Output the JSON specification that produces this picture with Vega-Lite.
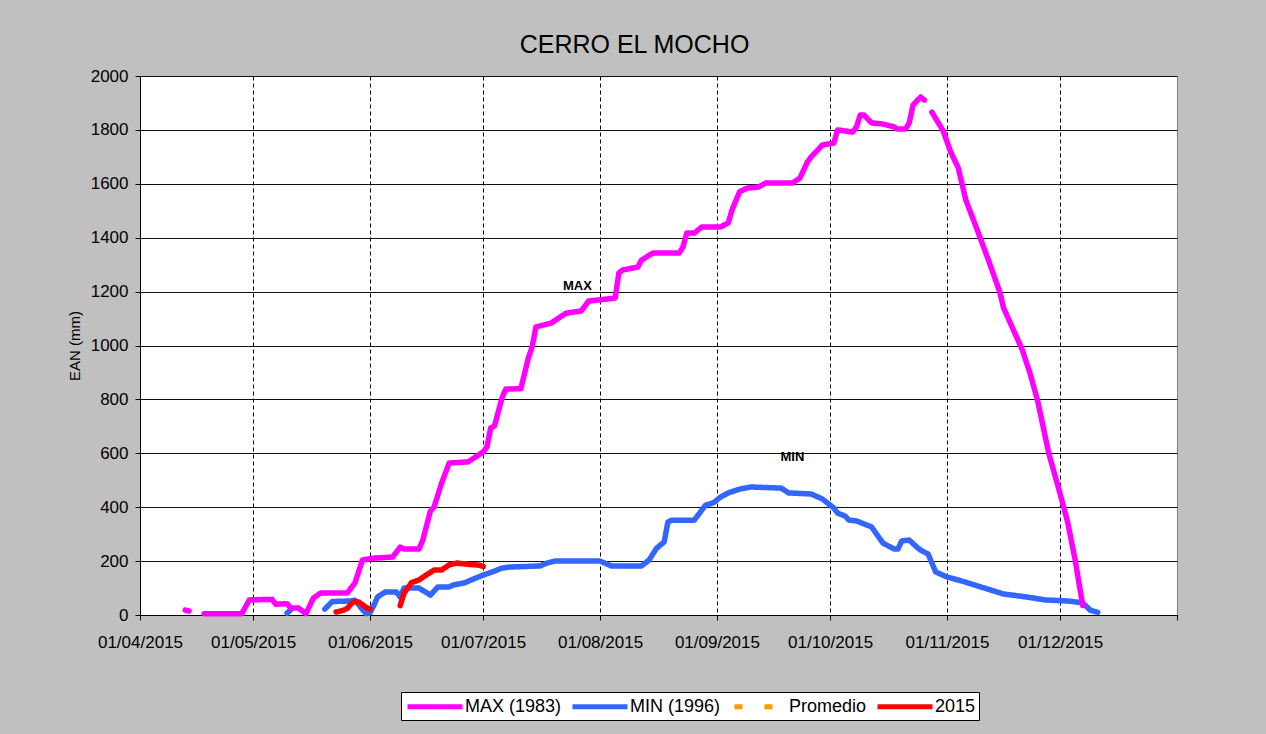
{
  "$schema": "https://vega.github.io/schema/vega-lite/v6.json",
  "width": 1037,
  "height": 539,
  "autosize": {"type": "none"},
  "padding": {"left": 140, "top": 76, "right": 89, "bottom": 119},
  "background": "#c0c0c0",
  "title": {"text": "CERRO EL MOCHO", "fontSize": 25, "font": "Liberation Sans", "fontWeight": "normal", "color": "black", "anchor": "middle", "offset": 9, "dx": -24},
  "config": {
    "font": "Liberation Sans",
    "view": {"fill": "white", "stroke": "#808080", "strokeWidth": 1},
    "axis": {"domainColor": "black", "tickColor": "black", "labelColor": "black", "titleColor": "black", "labelFont": "Liberation Sans", "titleFont": "Liberation Sans", "labelFontSize": 17, "tickSize": 5, "labelFlush": false, "labelOverlap": false, "labelBound": false}
  },
  "data": {"values": [
    {"s": "MAX (1983)", "d": "2015-04-13", "v": 18},
    {"s": "MAX (1983)", "d": "2015-04-14", "v": 15},
    {"s": "MAX (1983)", "d": "2015-04-15", "v": null},
    {"s": "MAX (1983)", "d": "2015-04-18", "v": 5},
    {"s": "MAX (1983)", "d": "2015-04-28", "v": 5},
    {"s": "MAX (1983)", "d": "2015-04-30", "v": 56},
    {"s": "MAX (1983)", "d": "2015-05-06", "v": 58},
    {"s": "MAX (1983)", "d": "2015-05-07", "v": 40},
    {"s": "MAX (1983)", "d": "2015-05-10", "v": 42},
    {"s": "MAX (1983)", "d": "2015-05-11", "v": 26},
    {"s": "MAX (1983)", "d": "2015-05-13", "v": 26},
    {"s": "MAX (1983)", "d": "2015-05-15", "v": 5},
    {"s": "MAX (1983)", "d": "2015-05-17", "v": 63},
    {"s": "MAX (1983)", "d": "2015-05-19", "v": 82},
    {"s": "MAX (1983)", "d": "2015-05-26", "v": 82},
    {"s": "MAX (1983)", "d": "2015-05-28", "v": 119},
    {"s": "MAX (1983)", "d": "2015-05-30", "v": 204},
    {"s": "MAX (1983)", "d": "2015-06-02", "v": 211},
    {"s": "MAX (1983)", "d": "2015-06-07", "v": 215},
    {"s": "MAX (1983)", "d": "2015-06-09", "v": 252},
    {"s": "MAX (1983)", "d": "2015-06-10", "v": 245},
    {"s": "MAX (1983)", "d": "2015-06-14", "v": 245},
    {"s": "MAX (1983)", "d": "2015-06-15", "v": 278},
    {"s": "MAX (1983)", "d": "2015-06-17", "v": 385},
    {"s": "MAX (1983)", "d": "2015-06-18", "v": 401},
    {"s": "MAX (1983)", "d": "2015-06-20", "v": 490},
    {"s": "MAX (1983)", "d": "2015-06-22", "v": 564},
    {"s": "MAX (1983)", "d": "2015-06-27", "v": 568},
    {"s": "MAX (1983)", "d": "2015-07-01", "v": 605},
    {"s": "MAX (1983)", "d": "2015-07-02", "v": 623},
    {"s": "MAX (1983)", "d": "2015-07-03", "v": 694},
    {"s": "MAX (1983)", "d": "2015-07-04", "v": 701},
    {"s": "MAX (1983)", "d": "2015-07-06", "v": 805},
    {"s": "MAX (1983)", "d": "2015-07-07", "v": 838},
    {"s": "MAX (1983)", "d": "2015-07-11", "v": 840},
    {"s": "MAX (1983)", "d": "2015-07-13", "v": 954},
    {"s": "MAX (1983)", "d": "2015-07-14", "v": 995},
    {"s": "MAX (1983)", "d": "2015-07-15", "v": 1069},
    {"s": "MAX (1983)", "d": "2015-07-19", "v": 1083},
    {"s": "MAX (1983)", "d": "2015-07-23", "v": 1120},
    {"s": "MAX (1983)", "d": "2015-07-27", "v": 1128},
    {"s": "MAX (1983)", "d": "2015-07-29", "v": 1165},
    {"s": "MAX (1983)", "d": "2015-08-05", "v": 1176},
    {"s": "MAX (1983)", "d": "2015-08-06", "v": 1269},
    {"s": "MAX (1983)", "d": "2015-08-07", "v": 1280},
    {"s": "MAX (1983)", "d": "2015-08-11", "v": 1291},
    {"s": "MAX (1983)", "d": "2015-08-12", "v": 1317},
    {"s": "MAX (1983)", "d": "2015-08-15", "v": 1343},
    {"s": "MAX (1983)", "d": "2015-08-22", "v": 1343},
    {"s": "MAX (1983)", "d": "2015-08-23", "v": 1366},
    {"s": "MAX (1983)", "d": "2015-08-24", "v": 1417},
    {"s": "MAX (1983)", "d": "2015-08-26", "v": 1417},
    {"s": "MAX (1983)", "d": "2015-08-28", "v": 1440},
    {"s": "MAX (1983)", "d": "2015-09-02", "v": 1440},
    {"s": "MAX (1983)", "d": "2015-09-04", "v": 1455},
    {"s": "MAX (1983)", "d": "2015-09-05", "v": 1503},
    {"s": "MAX (1983)", "d": "2015-09-07", "v": 1570},
    {"s": "MAX (1983)", "d": "2015-09-09", "v": 1584},
    {"s": "MAX (1983)", "d": "2015-09-12", "v": 1588},
    {"s": "MAX (1983)", "d": "2015-09-14", "v": 1603},
    {"s": "MAX (1983)", "d": "2015-09-21", "v": 1603},
    {"s": "MAX (1983)", "d": "2015-09-23", "v": 1621},
    {"s": "MAX (1983)", "d": "2015-09-25", "v": 1681},
    {"s": "MAX (1983)", "d": "2015-09-26", "v": 1700},
    {"s": "MAX (1983)", "d": "2015-09-29", "v": 1744},
    {"s": "MAX (1983)", "d": "2015-10-02", "v": 1751},
    {"s": "MAX (1983)", "d": "2015-10-03", "v": 1800},
    {"s": "MAX (1983)", "d": "2015-10-07", "v": 1792},
    {"s": "MAX (1983)", "d": "2015-10-08", "v": 1811},
    {"s": "MAX (1983)", "d": "2015-10-09", "v": 1855},
    {"s": "MAX (1983)", "d": "2015-10-10", "v": 1855},
    {"s": "MAX (1983)", "d": "2015-10-12", "v": 1826},
    {"s": "MAX (1983)", "d": "2015-10-15", "v": 1822},
    {"s": "MAX (1983)", "d": "2015-10-18", "v": 1811},
    {"s": "MAX (1983)", "d": "2015-10-19", "v": 1803},
    {"s": "MAX (1983)", "d": "2015-10-21", "v": 1803},
    {"s": "MAX (1983)", "d": "2015-10-22", "v": 1826},
    {"s": "MAX (1983)", "d": "2015-10-23", "v": 1892},
    {"s": "MAX (1983)", "d": "2015-10-25", "v": 1922},
    {"s": "MAX (1983)", "d": "2015-10-26", "v": 1911},
    {"s": "MAX (1983)", "d": "2015-10-27", "v": null},
    {"s": "MAX (1983)", "d": "2015-10-28", "v": 1866},
    {"s": "MAX (1983)", "d": "2015-10-31", "v": 1796},
    {"s": "MAX (1983)", "d": "2015-11-02", "v": 1718},
    {"s": "MAX (1983)", "d": "2015-11-04", "v": 1659},
    {"s": "MAX (1983)", "d": "2015-11-06", "v": 1540},
    {"s": "MAX (1983)", "d": "2015-11-09", "v": 1430},
    {"s": "MAX (1983)", "d": "2015-11-12", "v": 1317},
    {"s": "MAX (1983)", "d": "2015-11-15", "v": 1199},
    {"s": "MAX (1983)", "d": "2015-11-16", "v": 1140},
    {"s": "MAX (1983)", "d": "2015-11-21", "v": 983},
    {"s": "MAX (1983)", "d": "2015-11-23", "v": 898},
    {"s": "MAX (1983)", "d": "2015-11-25", "v": 798},
    {"s": "MAX (1983)", "d": "2015-11-28", "v": 600},
    {"s": "MAX (1983)", "d": "2015-12-01", "v": 450},
    {"s": "MAX (1983)", "d": "2015-12-03", "v": 345},
    {"s": "MAX (1983)", "d": "2015-12-05", "v": 204},
    {"s": "MAX (1983)", "d": "2015-12-07", "v": 35},
    {"s": "MIN (1996)", "d": "2015-05-10", "v": 7},
    {"s": "MIN (1996)", "d": "2015-05-11", "v": 20},
    {"s": "MIN (1996)", "d": "2015-05-12", "v": null},
    {"s": "MIN (1996)", "d": "2015-05-20", "v": 22},
    {"s": "MIN (1996)", "d": "2015-05-22", "v": 50},
    {"s": "MIN (1996)", "d": "2015-05-27", "v": 52},
    {"s": "MIN (1996)", "d": "2015-05-28", "v": 55},
    {"s": "MIN (1996)", "d": "2015-05-30", "v": 20},
    {"s": "MIN (1996)", "d": "2015-05-31", "v": 5},
    {"s": "MIN (1996)", "d": "2015-06-01", "v": 8},
    {"s": "MIN (1996)", "d": "2015-06-02", "v": 35},
    {"s": "MIN (1996)", "d": "2015-06-03", "v": 67},
    {"s": "MIN (1996)", "d": "2015-06-05", "v": 85},
    {"s": "MIN (1996)", "d": "2015-06-08", "v": 85},
    {"s": "MIN (1996)", "d": "2015-06-09", "v": 67},
    {"s": "MIN (1996)", "d": "2015-06-10", "v": 100},
    {"s": "MIN (1996)", "d": "2015-06-14", "v": 100},
    {"s": "MIN (1996)", "d": "2015-06-17", "v": 74},
    {"s": "MIN (1996)", "d": "2015-06-19", "v": 104},
    {"s": "MIN (1996)", "d": "2015-06-22", "v": 104},
    {"s": "MIN (1996)", "d": "2015-06-23", "v": 111},
    {"s": "MIN (1996)", "d": "2015-06-26", "v": 119},
    {"s": "MIN (1996)", "d": "2015-06-29", "v": 137},
    {"s": "MIN (1996)", "d": "2015-07-01", "v": 148},
    {"s": "MIN (1996)", "d": "2015-07-04", "v": 163},
    {"s": "MIN (1996)", "d": "2015-07-06", "v": 174},
    {"s": "MIN (1996)", "d": "2015-07-08", "v": 178},
    {"s": "MIN (1996)", "d": "2015-07-16", "v": 182},
    {"s": "MIN (1996)", "d": "2015-07-18", "v": 193},
    {"s": "MIN (1996)", "d": "2015-07-20", "v": 200},
    {"s": "MIN (1996)", "d": "2015-08-01", "v": 200},
    {"s": "MIN (1996)", "d": "2015-08-04", "v": 182},
    {"s": "MIN (1996)", "d": "2015-08-12", "v": 182},
    {"s": "MIN (1996)", "d": "2015-08-14", "v": 204},
    {"s": "MIN (1996)", "d": "2015-08-16", "v": 248},
    {"s": "MIN (1996)", "d": "2015-08-18", "v": 271},
    {"s": "MIN (1996)", "d": "2015-08-19", "v": 345},
    {"s": "MIN (1996)", "d": "2015-08-20", "v": 352},
    {"s": "MIN (1996)", "d": "2015-08-26", "v": 352},
    {"s": "MIN (1996)", "d": "2015-08-29", "v": 408},
    {"s": "MIN (1996)", "d": "2015-08-31", "v": 416},
    {"s": "MIN (1996)", "d": "2015-09-02", "v": 438},
    {"s": "MIN (1996)", "d": "2015-09-04", "v": 453},
    {"s": "MIN (1996)", "d": "2015-09-07", "v": 467},
    {"s": "MIN (1996)", "d": "2015-09-10", "v": 475},
    {"s": "MIN (1996)", "d": "2015-09-18", "v": 471},
    {"s": "MIN (1996)", "d": "2015-09-20", "v": 453},
    {"s": "MIN (1996)", "d": "2015-09-26", "v": 449},
    {"s": "MIN (1996)", "d": "2015-09-29", "v": 430},
    {"s": "MIN (1996)", "d": "2015-10-02", "v": 397},
    {"s": "MIN (1996)", "d": "2015-10-03", "v": 378},
    {"s": "MIN (1996)", "d": "2015-10-05", "v": 367},
    {"s": "MIN (1996)", "d": "2015-10-06", "v": 352},
    {"s": "MIN (1996)", "d": "2015-10-08", "v": 349},
    {"s": "MIN (1996)", "d": "2015-10-10", "v": 338},
    {"s": "MIN (1996)", "d": "2015-10-12", "v": 327},
    {"s": "MIN (1996)", "d": "2015-10-15", "v": 267},
    {"s": "MIN (1996)", "d": "2015-10-18", "v": 245},
    {"s": "MIN (1996)", "d": "2015-10-19", "v": 245},
    {"s": "MIN (1996)", "d": "2015-10-20", "v": 275},
    {"s": "MIN (1996)", "d": "2015-10-22", "v": 278},
    {"s": "MIN (1996)", "d": "2015-10-24", "v": 252},
    {"s": "MIN (1996)", "d": "2015-10-25", "v": 241},
    {"s": "MIN (1996)", "d": "2015-10-27", "v": 226},
    {"s": "MIN (1996)", "d": "2015-10-29", "v": 160},
    {"s": "MIN (1996)", "d": "2015-11-01", "v": 141},
    {"s": "MIN (1996)", "d": "2015-11-05", "v": 126},
    {"s": "MIN (1996)", "d": "2015-11-10", "v": 104},
    {"s": "MIN (1996)", "d": "2015-11-16", "v": 78},
    {"s": "MIN (1996)", "d": "2015-11-22", "v": 67},
    {"s": "MIN (1996)", "d": "2015-11-27", "v": 56},
    {"s": "MIN (1996)", "d": "2015-12-03", "v": 52},
    {"s": "MIN (1996)", "d": "2015-12-07", "v": 45},
    {"s": "MIN (1996)", "d": "2015-12-09", "v": 18},
    {"s": "MIN (1996)", "d": "2015-12-11", "v": 10},
    {"s": "2015", "d": "2015-05-23", "v": 11},
    {"s": "2015", "d": "2015-05-25", "v": 18},
    {"s": "2015", "d": "2015-05-26", "v": 25},
    {"s": "2015", "d": "2015-05-27", "v": 42},
    {"s": "2015", "d": "2015-05-28", "v": 50},
    {"s": "2015", "d": "2015-05-29", "v": 48},
    {"s": "2015", "d": "2015-05-30", "v": 38},
    {"s": "2015", "d": "2015-05-31", "v": 28},
    {"s": "2015", "d": "2015-06-01", "v": 22},
    {"s": "2015", "d": "2015-06-02", "v": null},
    {"s": "2015", "d": "2015-06-09", "v": 35},
    {"s": "2015", "d": "2015-06-10", "v": 80},
    {"s": "2015", "d": "2015-06-12", "v": 120},
    {"s": "2015", "d": "2015-06-14", "v": 130},
    {"s": "2015", "d": "2015-06-15", "v": 140},
    {"s": "2015", "d": "2015-06-17", "v": 158},
    {"s": "2015", "d": "2015-06-18", "v": 167},
    {"s": "2015", "d": "2015-06-20", "v": 167},
    {"s": "2015", "d": "2015-06-22", "v": 186},
    {"s": "2015", "d": "2015-06-24", "v": 193},
    {"s": "2015", "d": "2015-06-27", "v": 188},
    {"s": "2015", "d": "2015-06-30", "v": 185},
    {"s": "2015", "d": "2015-07-01", "v": 180}
  ]},
  "encoding": {
    "x": {
      "field": "d", "type": "temporal",
      "scale": {"type": "utc", "domain": [{"year": 2015, "month": 4, "date": 1, "utc": true}, {"year": 2016, "month": 1, "date": 1, "utc": true}]},
      "axis": {
        "title": null,
        "values": [
          {"year": 2015, "month": 4, "date": 1, "utc": true},
          {"year": 2015, "month": 5, "date": 1, "utc": true},
          {"year": 2015, "month": 6, "date": 1, "utc": true},
          {"year": 2015, "month": 7, "date": 1, "utc": true},
          {"year": 2015, "month": 8, "date": 1, "utc": true},
          {"year": 2015, "month": 9, "date": 1, "utc": true},
          {"year": 2015, "month": 10, "date": 1, "utc": true},
          {"year": 2015, "month": 11, "date": 1, "utc": true},
          {"year": 2015, "month": 12, "date": 1, "utc": true},
          {"year": 2016, "month": 1, "date": 1, "utc": true}
        ],
        "labelExpr": "datum.value >= 1451606400000 ? '' : utcFormat(datum.value, '%d/%m/%Y')",
        "labelPadding": 14,
        "grid": true,
        "gridColor": "black",
        "gridDash": [4, 3],
        "gridOpacity": {"condition": {"test": "datum.value >= 1451606400000 || datum.value <= 1427846400000", "value": 0}, "value": 1}
      }
    },
    "y": {
      "field": "v", "type": "quantitative",
      "scale": {"domain": [0, 2000]},
      "axis": {
        "title": "EAN (mm)",
        "titleFontSize": 15,
        "titleFontWeight": "normal",
        "titlePadding": 8,
        "values": [0, 200, 400, 600, 800, 1000, 1200, 1400, 1600, 1800, 2000],
        "format": "d",
        "labelPadding": 7,
        "grid": true,
        "gridColor": "#111111"
      }
    }
  },
  "layer": [
    {
      "transform": [{"filter": "datum.s === 'MIN (1996)'"}],
      "mark": {"type": "line", "strokeWidth": 5.5, "strokeCap": "round", "strokeJoin": "round", "invalid": "break-paths-show-domains"},
      "encoding": {
        "color": {"field": "s", "type": "nominal", "scale": {"domain": ["MAX (1983)", "MIN (1996)", "Promedio", "2015"], "range": ["#FF00FF", "#3366FF", "#FF9900", "#FF0000"]},
          "legend": {"title": null, "orient": "none", "legendX": 261, "legendY": 616, "direction": "horizontal", "columns": 4, "symbolType": "M-0.889,0H5.222", "symbolSize": 324, "symbolStrokeWidth": 5, "labelFontSize": 18, "labelFont": "Liberation Sans", "labelColor": "black", "labelOffset": 38, "columnPadding": 0, "padding": 3, "strokeColor": "black", "fillColor": "white", "labelLimit": 300}},
        "strokeDash": {"field": "s", "type": "nominal", "scale": {"domain": ["MAX (1983)", "MIN (1996)", "Promedio", "2015"], "range": [[1, 0], [1, 0], [0, 3, 8, 19], [1, 0]]},
          "legend": {"title": null, "orient": "none", "legendX": 261, "legendY": 616, "direction": "horizontal", "columns": 4, "symbolType": "M-0.889,0H5.222", "symbolSize": 324, "symbolStrokeWidth": 5, "labelFontSize": 18, "labelFont": "Liberation Sans", "labelColor": "black", "labelOffset": 38, "columnPadding": 0, "padding": 3, "strokeColor": "black", "fillColor": "white", "labelLimit": 300}}
      }
    },
    {
      "transform": [{"filter": "datum.s === 'MAX (1983)'"}],
      "mark": {"type": "line", "strokeWidth": 5.5, "strokeCap": "round", "strokeJoin": "round", "invalid": "break-paths-show-domains"},
      "encoding": {
        "color": {"field": "s", "type": "nominal"},
        "strokeDash": {"field": "s", "type": "nominal"}
      }
    },
    {
      "transform": [{"filter": "datum.s === '2015'"}],
      "mark": {"type": "line", "strokeWidth": 5.5, "strokeCap": "round", "strokeJoin": "round", "invalid": "break-paths-show-domains"},
      "encoding": {
        "color": {"field": "s", "type": "nominal"},
        "strokeDash": {"field": "s", "type": "nominal"}
      }
    },
    {
      "data": {"values": [
        {"d": "2015-07-26", "v": 1221, "t": "MAX"},
        {"d": "2015-09-21", "v": 586, "t": "MIN"}
      ]},
      "mark": {"type": "text", "font": "Liberation Sans", "fontWeight": "bold", "fontSize": 13, "color": "black", "align": "center", "baseline": "middle"},
      "encoding": {"text": {"field": "t", "type": "nominal"}}
    }
  ]
}
